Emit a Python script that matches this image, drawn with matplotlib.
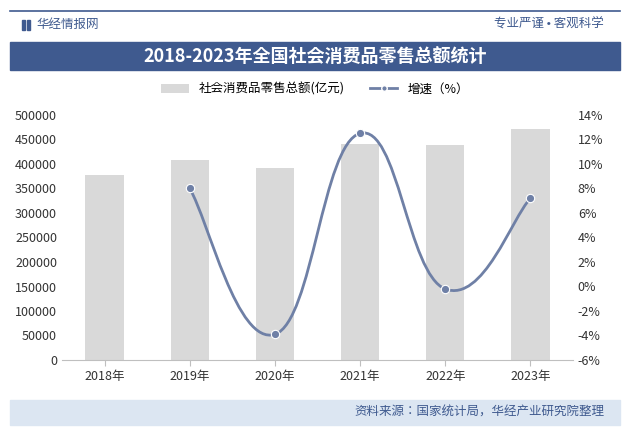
import matplotlib.pyplot as plt
import matplotlib.patches as patches
from matplotlib.path import Path
import numpy as np

plt.rcParams['font.family'] = ['Noto Sans CJK JP', 'Noto Sans CJK SC', 'DejaVu Sans']

years = ['2018年', '2019年', '2020年', '2021年', '2022年', '2023年']
sales = [377783, 408017, 391981, 440823, 439733, 471495]  # 亿元
growth = [None, 8.0, -3.9, 12.5, -0.2, 7.2]  # %

W, H = 630, 438
fig = plt.figure(figsize=(W / 100, H / 100), dpi=100)

def fx(px): return px / W
def fy(py): return 1 - py / H

# header
fig.add_artist(plt.Line2D([fx(10), fx(620)], [fy(11), fy(11)], color='#3f5a8f', lw=1.2))
fig.add_artist(patches.Rectangle((fx(22), fy(30)), 3 / W, 10 / H, color='#3f5a8f'))
fig.add_artist(patches.Rectangle((fx(27), fy(30)), 3 / W, 10 / H, color='#3f5a8f'))
fig.text(fx(36), fy(24), '华经情报网', fontsize=9, color='#3f5a8f', va='center')
fig.text(fx(604), fy(24), '专业严谨 • 客观科学', fontsize=9, color='#3f5a8f', va='center', ha='right')
fig.add_artist(patches.Rectangle((fx(10), fy(70)), 610 / W, 28 / H, color='#3f5a8f'))
fig.text(0.5, fy(56), '2018-2023年全国社会消费品零售总额统计', fontsize=13, color='white',
         ha='center', va='center', fontweight='bold')
# footer
fig.add_artist(patches.Rectangle((fx(10), fy(425)), 610 / W, 25 / H, color='#dce6f2'))
fig.text(fx(604), fy(412), '资料来源：国家统计局，华经产业研究院整理', fontsize=9, color='#3f5a8f',
         ha='right', va='center')

ax = fig.add_axes([fx(62), fy(360), (573 - 62) / W, (360 - 115) / H])
x = np.arange(len(years))
ax.bar(x, sales, width=0.45, color='#d9d9d9', label='社会消费品零售总额(亿元)')
ax.set_ylim(0, 500000)
ax.set_yticks(range(0, 500001, 50000))
ax.set_xlim(-0.5, len(years) - 0.5)
ax.set_xticks(x)
ax.set_xticklabels(years)
for s in ['top', 'right', 'left']:
    ax.spines[s].set_visible(False)
ax.spines['bottom'].set_color('#bfbfbf')
ax.tick_params(axis='both', labelsize=9, colors='#333333', length=0)
ax.tick_params(axis='x', length=4, color='#bfbfbf')

ax2 = ax.twinx()
ax2.set_ylim(-6, 14)
ax2.set_yticks(range(-6, 15, 2))
ax2.set_yticklabels([f'{v}%' for v in range(-6, 15, 2)])
for s in ax2.spines.values():
    s.set_visible(False)
ax2.tick_params(axis='y', labelsize=9, colors='#333333', length=0)

gx = np.array([i for i, g in enumerate(growth) if g is not None], float)
gy = np.array([g for g in growth if g is not None], float)
# smooth curve: bezier segments (Catmull-Rom style tangents)
k = 4.5
verts = [(gx[0], gy[0])]
codes = [Path.MOVETO]
n = len(gx)
for i in range(n - 1):
    p0 = (gx[max(i - 1, 0)], gy[max(i - 1, 0)])
    p1 = (gx[i], gy[i]); p2 = (gx[i + 1], gy[i + 1])
    p3 = (gx[min(i + 2, n - 1)], gy[min(i + 2, n - 1)])
    c1 = (p1[0] + (p2[0] - p0[0]) / k, p1[1] + (p2[1] - p0[1]) / k)
    c2 = (p2[0] - (p3[0] - p1[0]) / k, p2[1] - (p3[1] - p1[1]) / k)
    verts += [c1, c2, p2]
    codes += [Path.CURVE4] * 3
lc = '#6f80a6'
ax2.add_patch(patches.PathPatch(Path(verts, codes), fill=False, edgecolor=lc, lw=2))
ax2.plot(gx, gy, 'o', color=lc, ms=6, mec='white', mew=0.8)
line_handle = plt.Line2D([], [], color=lc, lw=2, marker='o', ms=4, mec='white')

fig.legend([ax.patches[0], line_handle], ['社会消费品零售总额(亿元)', '增速（%）'],
           loc='center', bbox_to_anchor=(0.5, fy(89)), ncol=2, frameon=False,
           fontsize=9, handlelength=2.2, columnspacing=2)

fig.savefig('out.png', dpi=100)
